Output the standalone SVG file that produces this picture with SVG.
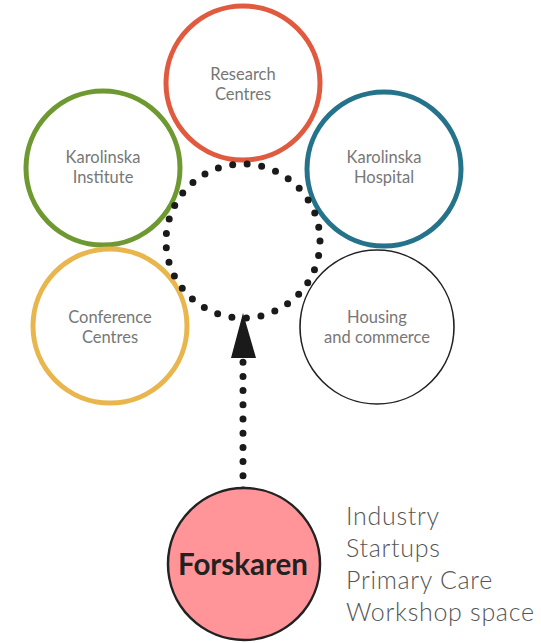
<svg xmlns="http://www.w3.org/2000/svg" width="541" height="643" viewBox="0 0 541 643">
<style>
.ring{fill:none;stroke-width:5}
.lbl{font-family:Lato,"Open Sans",sans-serif;font-size:16.5px;fill:#777;text-anchor:middle}
.side{font-family:Lato,"Open Sans",sans-serif;font-size:25px;font-weight:300;fill:#555;letter-spacing:0.7px}
.dots{fill:none;stroke:#1a1a1a;stroke-width:7;stroke-linecap:round}
</style>
<rect width="541" height="643" fill="#fff"/>
<g id="research">
<circle class="ring" cx="243" cy="83" r="77" stroke="#E05A3F"/>
<text class="lbl" x="243" y="80">Research</text>
<text class="lbl" x="243" y="100">Centres</text>
</g>
<g id="karolinska-institute">
<circle class="ring" cx="103" cy="168" r="77" stroke="#6E9830"/>
<text class="lbl" x="103" y="163">Karolinska</text>
<text class="lbl" x="103" y="183">Institute</text>
</g>
<g id="karolinska-hospital">
<circle class="ring" cx="384" cy="169" r="77" stroke="#25728B"/>
<text class="lbl" x="384" y="163">Karolinska</text>
<text class="lbl" x="384" y="183">Hospital</text>
</g>
<g id="conference">
<circle class="ring" cx="110" cy="326" r="77" stroke="#E8B64C"/>
<text class="lbl" x="110" y="323">Conference</text>
<text class="lbl" x="110" y="343">Centres</text>
</g>
<g id="housing">
<circle cx="377" cy="327" r="77" fill="none" stroke="#222" stroke-width="1.6"/>
<text class="lbl" x="377" y="323">Housing</text>
<text class="lbl" x="377" y="343">and commerce</text>
</g>
<g id="hub">
<circle class="dots" cx="243" cy="241" r="77" stroke-dasharray="0 14.66"/>
</g>
<g id="connectors">
<line class="dots" x1="243" y1="490" x2="243" y2="362" stroke-dasharray="0 14.2"/>
<polygon points="243,313 231,358 256,358" fill="#1a1a1a"/>
</g>
<g id="forskaren">
<circle cx="244" cy="564" r="76" fill="#FF9599" stroke="#222" stroke-width="2.5"/>
<text x="243" y="575" text-anchor="middle" font-family="Lato,'Open Sans',sans-serif" font-size="29.5" font-weight="bold" fill="#222">Forskaren</text>
</g>
<g id="list">
<text class="side" x="346" y="525">Industry</text>
<text class="side" x="346" y="557">Startups</text>
<text class="side" x="346" y="589">Primary Care</text>
<text class="side" x="346" y="621">Workshop space</text>
</g>
</svg>
